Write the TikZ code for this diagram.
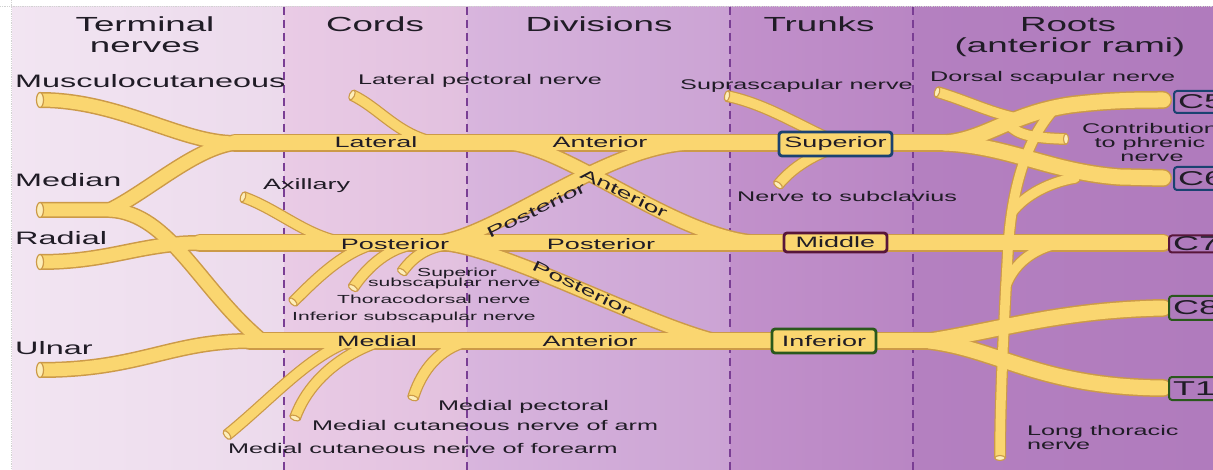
\documentclass[tikz,border=0pt]{standalone}
\usepackage{fontspec}
\setmainfont[FakeStretch=1.8]{Liberation Sans}
\usetikzlibrary{shapes.geometric}
\definecolor{bgA1}{RGB}{242,229,242}
\definecolor{bgA2}{RGB}{236,218,236}
\definecolor{bgB1}{RGB}{233,203,229}
\definecolor{bgB2}{RGB}{226,192,223}
\definecolor{bgC1}{RGB}{216,181,221}
\definecolor{bgC2}{RGB}{203,163,212}
\definecolor{bgD1}{RGB}{194,145,203}
\definecolor{bgD2}{RGB}{185,134,196}
\definecolor{bgE1}{RGB}{180,128,192}
\definecolor{bgE2}{RGB}{176,123,189}
\definecolor{dashc}{RGB}{122,62,148}
\definecolor{nerveY}{RGB}{250,214,112}
\definecolor{nerveO}{RGB}{204,154,72}
\definecolor{nerveEnd}{RGB}{253,238,186}
\definecolor{txt}{RGB}{32,28,38}
\definecolor{bblue}{RGB}{26,66,112}
\definecolor{bmaroon}{RGB}{88,22,58}
\definecolor{bgreen}{RGB}{42,88,28}
\tikzset{
  mainO/.style={draw=nerveO, line width=18pt, line cap=round},
  mainY/.style={draw=nerveY, line width=15pt, line cap=round},
  termO/.style={draw=nerveO, line width=16pt, line cap=round},
  termY/.style={draw=nerveY, line width=13pt, line cap=round},
  diagO/.style={draw=nerveO, line width=16pt, line cap=round},
  diagY/.style={draw=nerveY, line width=13pt, line cap=round},
  thinO/.style={draw=nerveO, line width=12pt, line cap=round},
  thinY/.style={draw=nerveY, line width=9.5pt, line cap=round},
  free/.style={line cap=butt},
  endbig/.style={ellipse, draw=nerveO, fill=nerveEnd, line width=1.2pt, inner sep=0pt, minimum width=7pt, minimum height=15pt},
  endsmall/.style={ellipse, draw=nerveO, fill=nerveEnd, line width=1.1pt, inner sep=0pt, minimum width=5pt, minimum height=10.5pt},
  hd/.style={font=\fontsize{20.4}{22}\selectfont, text=txt, inner sep=0pt, anchor=base},
  tl/.style={font=\fontsize{18}{20}\selectfont, text=txt, inner sep=0pt, anchor=base west},
  lb/.style={font=\fontsize{14}{16}\selectfont, text=txt, inner sep=0pt, anchor=base west},
  lbc/.style={font=\fontsize{14}{16}\selectfont, text=txt, inner sep=0pt, anchor=base},
  nl/.style={font=\fontsize{15}{17}\selectfont, text=txt, inner sep=0pt, anchor=base},
  nlr/.style={font=\fontsize{15}{17}\selectfont, text=txt, inner sep=0pt, anchor=center},
  sm/.style={font=\fontsize{11.7}{13}\selectfont, text=txt, inner sep=0pt, anchor=base west},
  tbox/.style={rectangle, rounded corners=3pt, line width=2.8pt, fill=nerveY, font=\fontsize{15}{17}\selectfont, text=txt, inner sep=0pt},
  cbox/.style={rectangle, rounded corners=3pt, line width=2pt, fill=bgE2, font=\fontsize{20}{22}\selectfont, text=txt, inner ysep=0pt, inner xsep=4pt, text width=50pt, align=left, anchor=west},
  divline/.style={draw=dashc, line width=2.5pt, dash pattern=on 8pt off 5pt}
}
\newcommand\nervesall[1]{%
 % terminal nerves
 \draw[term#1, free] (muscE) .. controls (120,100) and (180,143) .. (latJ);
 \draw[term#1] (latJ) .. controls (195,148) and (150,190) .. (medJ);
 \draw[term#1, free] (medE) -- (medJ) .. controls (170,213) and (200,290) .. (medcJ);
 \draw[term#1, free] (radE) .. controls (110,262) and (140,243) .. (postJ);
 \draw[term#1, free] (ulnE) .. controls (140,370) and (170,341) .. (medcL);
 % cords, divisions, trunks
 \draw[main#1] (latJ) -- (supS);
 \draw[main#1] (postJ) -- (c7r);
 \draw[main#1] (medcL) -- (infS);
 % roots
 \draw[main#1] (supS) .. controls (985,140) and (1010,114) .. (1070,105) .. controls (1110,100) and (1140,100) .. (c5r);
 \draw[main#1] (supS) .. controls (1010,146) and (1050,172) .. (1120,177) -- (c6r);
 \draw[main#1] (infS) .. controls (1000,330) and (1060,310) .. (c8r);
 \draw[main#1] (infS) .. controls (1000,350) and (1040,387) .. (t1r);
 % crossing divisions
 \draw[diag#1] (dA1) .. controls (565,143) and (680,243) .. (dA2);
 \draw[diag#1] (dP1) .. controls (490,243) and (605,143) .. (dP2);
 \draw[diag#1] (dQ1) .. controls (500,246) and (640,322) .. (dQ2);
 % small branches
 \draw[thin#1, free] (latpecE) .. controls (380,108) and (400,138) .. (440,143);
 \draw[thin#1, free] (axE) .. controls (280,210) and (310,240) .. (350,243);
 \draw[thin#1, free] (ssE) .. controls (412,258) and (425,248) .. (445,245);
 \draw[thin#1, free] (tdE) .. controls (365,270) and (385,250) .. (410,245);
 \draw[thin#1, free] (isE) .. controls (315,280) and (340,255) .. (370,245);
 \draw[thin#1, free] (mpE) .. controls (420,375) and (435,352) .. (462,343);
 \draw[thin#1, free] (mcaE) .. controls (305,390) and (330,360) .. (375,343);
 \draw[thin#1, free] (mcfE) .. controls (270,400) and (305,360) .. (345,343);
 \draw[thin#1, free] (supraE) .. controls (770,105) and (805,130) .. (840,143);
 \draw[thin#1, free] (subclE) .. controls (790,170) and (815,150) .. (855,143);
 \draw[thin#1, free] (dorsE) .. controls (965,100) and (995,115) .. (1022,119);
 \draw[thin#1, free] (1008,124) .. controls (1018,135) and (1032,138) .. (phrE);
 \draw[thin#1, free] (1055,108) .. controls (1030,135) and (1012,180) .. (1008,250) .. controls (1004,320) and (1000,400) .. (ltE);
 \draw[thin#1] (1075,178) .. controls (1050,182) and (1025,195) .. (1012,212);
 \draw[thin#1] (1060,243) .. controls (1035,248) and (1015,262) .. (1006,285);
}
\begin{document}
\begin{tikzpicture}[x=1pt, y=-1pt]
\useasboundingbox (0,0) rectangle (1213,470);
\fill[white] (0,0) rectangle (1213,470);
% background columns
\shade[left color=bgA1, right color=bgA2] (12,7) rectangle (284,470);
\shade[left color=bgB1, right color=bgB2] (284,7) rectangle (467,470);
\shade[left color=bgC1, right color=bgC2] (467,7) rectangle (730,470);
\shade[left color=bgD1, right color=bgD2] (730,7) rectangle (913,470);
\shade[left color=bgE1, right color=bgE2] (913,7) rectangle (1213,470);
\draw[gray!35, densely dotted, line width=0.8pt] (0,6.5) -- (1213,6.5);
\draw[gray!35, densely dotted, line width=0.8pt] (11.5,0) -- (11.5,470);
\draw[divline] (284,7) -- (284,470);
\draw[divline] (467,7) -- (467,470);
\draw[divline] (730,7) -- (730,470);
\draw[divline] (913,7) -- (913,470);
% coordinates
\coordinate (muscE) at (40,100);
\coordinate (latJ) at (235,143);
\coordinate (medE) at (40,210);
\coordinate (medJ) at (110,210);
\coordinate (medcJ) at (262,341);
\coordinate (radE) at (40,262);
\coordinate (postJ) at (200,243);
\coordinate (ulnE) at (40,370);
\coordinate (medcL) at (250,341);
\coordinate (supS) at (945,143);
\coordinate (infS) at (930,341);
\coordinate (c5r) at (1163,100);
\coordinate (c6r) at (1163,178);
\coordinate (c7r) at (1163,243);
\coordinate (c8r) at (1163,308);
\coordinate (t1r) at (1163,388);
\coordinate (dA1) at (505,143);
\coordinate (dA2) at (765,243);
\coordinate (dP1) at (430,243);
\coordinate (dP2) at (695,143);
\coordinate (dQ1) at (440,243);
\coordinate (dQ2) at (715,341);
\coordinate (latpecE) at (352,95);
\coordinate (axE) at (243,197);
\coordinate (ssE) at (402,272);
\coordinate (tdE) at (353,288);
\coordinate (isE) at (293,302);
\coordinate (mpE) at (413,398);
\coordinate (mcaE) at (295,418);
\coordinate (mcfE) at (227,435);
\coordinate (supraE) at (727,96);
\coordinate (subclE) at (778,185);
\coordinate (dorsE) at (937,92);
\coordinate (phrE) at (1066,139);
\coordinate (ltE) at (1000,458);
% nerves: outlines first, then fills
\nervesall{O}
\nervesall{Y}
% open ends
\node[endbig] (n1) at (muscE) {};
\node[endbig] (n2) at (medE) {};
\node[endbig] (n3) at (radE) {};
\node[endbig] (n4) at (ulnE) {};
\node[endsmall, rotate=-25] (n5) at (latpecE) {};
\node[endsmall, rotate=-19] (n6) at (axE) {};
\node[endsmall, rotate=54] (n7) at (ssE) {};
\node[endsmall, rotate=56] (n8) at (tdE) {};
\node[endsmall, rotate=45] (n9) at (isE) {};
\node[endsmall, rotate=73] (n10) at (mpE) {};
\node[endsmall, rotate=70] (n11) at (mcaE) {};
\node[endsmall, rotate=39] (n12) at (mcfE) {};
\node[endsmall, rotate=-12] (n13) at (supraE) {};
\node[endsmall, rotate=51] (n14) at (subclE) {};
\node[endsmall, rotate=-16] (n15) at (dorsE) {};
\node[endsmall] (n16) at (phrE) {};
\node[endsmall, rotate=90] (n17) at (ltE) {};
% trunk boxes
\node[tbox, draw=bblue, minimum width=113pt, minimum height=24pt] (sup) at (835.5,144) {Superior};
\node[tbox, draw=bmaroon, minimum width=103pt, minimum height=19pt] (mid) at (835.5,242.5) {Middle};
\node[tbox, draw=bgreen, minimum width=104pt, minimum height=24pt] (inf) at (824,341) {Inferior};
% root boxes
\node[cbox, draw=bblue, minimum height=22pt] (C5) at (1173,102) {C5};
\node[cbox, draw=bblue, minimum height=23pt] (C6) at (1173,178.5) {C6};
\node[cbox, draw=bmaroon, minimum height=17pt] (C7) at (1168,244) {C7};
\node[cbox, draw=bgreen, minimum height=24pt] (C8) at (1168,308) {C8};
\node[cbox, draw=bgreen, minimum height=23pt] (T1) at (1168,388.5) {T1};
% headings
\node[hd] (hTerm) at (145,32) {Terminal};
\node[hd] (hTerm2) at (145,53) {nerves};
\node[hd] (hCords) at (375,32) {Cords};
\node[hd] (hDiv) at (599,32) {Divisions};
\node[hd] (hTrunks) at (819,32) {Trunks};
\node[hd] (hRoots) at (1068,32) {Roots};
\node[hd] (hRoots2) at (1070,53) {(anterior rami)};
% terminal labels
\node[tl] (lMusc) at (15,88) {Musculocutaneous};
\node[tl] (lMed) at (15,187) {Median};
\node[tl] (lRad) at (15,245) {Radial};
\node[tl] (lUln) at (15,355) {Ulnar};
% other labels
\node[lb] (lLatPec) at (358,85) {Lateral pectoral nerve};
\node[lb] (lSupra) at (680,90) {Suprascapular nerve};
\node[lb] (lDors) at (930,82) {Dorsal scapular nerve};
\node[lbc] (lPh1) at (1150,134) {Contribution};
\node[lbc] (lPh2) at (1150,148) {to phrenic};
\node[lbc] (lPh3) at (1152,162) {nerve};
\node[lb, font=\fontsize{15}{17}\selectfont] (lAx) at (263,190) {Axillary};
\node[lb] (lSubcl) at (737,202) {Nerve to subclavius};
\node[lb] (lMP) at (438,410) {Medial pectoral};
\node[lb] (lMCA) at (312,430) {Medial cutaneous nerve of arm};
\node[lb] (lMCF) at (228,453) {Medial cutaneous nerve of forearm};
\node[lb] (lLT1) at (1027,435) {Long thoracic};
\node[lb] (lLT2) at (1027,449) {nerve};
\node[sm] (lSS1) at (417,277) {Superior};
\node[sm] (lSS2) at (368,287) {subscapular nerve};
\node[sm] (lTD) at (337,304) {Thoracodorsal nerve};
\node[sm] (lIS) at (292,320) {Inferior subscapular nerve};
% labels on nerves
\node[nl] (cLat) at (376,148) {Lateral};
\node[nl] (dAnt1) at (600,148) {Anterior};
\node[nl] (cPost) at (395,250) {Posterior};
\node[nl] (dPost2) at (601,250) {Posterior};
\node[nl] (cMed) at (377,347) {Medial};
\node[nl] (dAnt3) at (590,346) {Anterior};
\node[nlr, rotate=-26] (dAntX) at (624,193) {Anterior};
\node[nlr, rotate=26] (dPostX) at (536,210) {Posterior};
\node[nlr, rotate=-26] (dPostY) at (582,288) {Posterior};
\end{tikzpicture}
\end{document}
